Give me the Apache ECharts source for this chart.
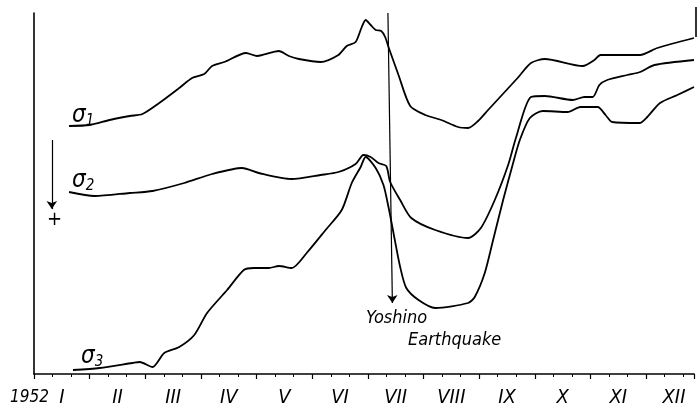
<!DOCTYPE html>
<html>
<head>
<meta charset="utf-8">
<script src="https://cdn.jsdelivr.net/npm/echarts@6/dist/echarts.min.js"></script>
<style>
  html, body { margin: 0; background: #fff; }
  #chart { width: 697px; height: 412px; }
</style>
</head>
<body>
<div id="chart"></div>
<script>
// x = months since 1 Jan 1952, y = relative stress (+ downward, arbitrary units)
const MONTHS = ['I', 'II', 'III', 'IV', 'V', 'VI', 'VII', 'VIII', 'IX', 'X', 'XI', 'XII'];
const YEAR = '1952';
const QUAKE_MONTH = 6.4;

const SIGMA1 = [
  [0.63, 113], [1.0, 112], [1.36, 107], [1.72, 103], [1.95, 101], [2.25, 90],
  [2.61, 75], [2.84, 65], [3.06, 61], [3.2, 53], [3.42, 49], [3.81, 40],
  [4.01, 43], [4.4, 38], [4.58, 43], [4.76, 46], [5.15, 49], [5.47, 42],
  [5.62, 33], [5.78, 29], [5.89, 14], [5.96, 7], [6.05, 12], [6.14, 17],
  [6.24, 18], [6.31, 24], [6.37, 34], [6.55, 62], [6.76, 93], [7.03, 102],
  [7.32, 107], [7.62, 114], [7.8, 115], [7.98, 108], [8.16, 97], [8.69, 65],
  [8.93, 50], [9.18, 46], [9.86, 53], [10.07, 47], [10.18, 42], [10.89, 42],
  [11.2, 35], [11.86, 25]
];

const SIGMA2 = [
  [0.63, 179], [1.09, 183], [1.72, 180], [2.13, 178], [2.7, 170], [3.2, 161],
  [3.74, 155], [4.04, 160], [4.63, 166], [5.15, 162], [5.47, 159], [5.78, 151],
  [5.92, 142], [6.05, 144], [6.19, 150], [6.33, 153], [6.4, 169], [6.58, 187],
  [6.78, 205], [7.21, 217], [7.8, 225], [8.03, 215], [8.28, 187], [8.52, 152],
  [8.66, 125], [8.93, 84], [9.18, 83], [9.68, 87], [9.89, 84], [10.04, 84],
  [10.16, 72], [10.3, 67], [10.66, 62], [10.89, 59], [11.15, 52], [11.86, 47]
];

const SIGMA3 = [
  [0.7, 357], [1.18, 355], [1.77, 350], [1.9, 349], [2.13, 354], [2.34, 340],
  [2.61, 334], [2.88, 322], [3.11, 300], [3.47, 277], [3.77, 257], [3.95, 255],
  [4.22, 255], [4.4, 253], [4.63, 255], [4.9, 240], [5.24, 217], [5.53, 197],
  [5.71, 170], [5.87, 154], [5.96, 144], [6.14, 155], [6.28, 172], [6.37, 194],
  [6.46, 220], [6.58, 254], [6.69, 275], [6.91, 287], [7.21, 295], [7.8, 290],
  [7.92, 284], [8.1, 260], [8.25, 227], [8.43, 187], [8.6, 152], [8.73, 127],
  [8.91, 105], [9.14, 98], [9.59, 99], [9.82, 94], [10.13, 94], [10.27, 102],
  [10.39, 109], [10.88, 110], [11.02, 104], [11.25, 90], [11.56, 82], [11.86, 74]
];

const X_MAX = 11.86;
const FONT = "'DejaVu Sans Condensed', 'DejaVu Sans', sans-serif";
const INK = '#000';

function curve(name, data) {
  return {
    name: name,
    type: 'line',
    data: data,
    smooth: 0.25,
    showSymbol: false,
    clip: false,
    lineStyle: { color: INK, width: 1.8 },
    silent: true,
  };
}

function sigmaLabel(index, x, y) {
  return {
    type: 'text',
    x: x,
    y: y,
    style: {
      text: '{s|σ}{n|' + index + '}',
      verticalAlign: 'middle',
      rich: {
        s: { fontSize: 24, fontStyle: 'italic', fontFamily: FONT, color: INK },
        n: { fontSize: 15, fontStyle: 'italic', fontFamily: FONT, color: INK, padding: [10, 0, 0, 0] },
      },
    },
  };
}

function note(text, x, y, size) {
  return {
    type: 'text',
    x: x,
    y: y,
    style: { text: text, fill: INK, font: 'italic ' + size + 'px ' + FONT, verticalAlign: 'middle' },
  };
}

const chart = echarts.init(document.getElementById('chart'));
const sigma1 = curve('σ1', SIGMA1);

sigma1.markLine = {
  silent: true,
  symbol: ['none', 'arrow'],
  symbolSize: 8,
  label: { show: false },
  lineStyle: { color: INK, width: 1.2, type: 'solid' },
  data: [
    [{ coord: [QUAKE_MONTH - 0.04, 0] }, { coord: [QUAKE_MONTH + 0.04, 290] }],
    [{ coord: [0.32, 127] }, { coord: [0.32, 196] }],
  ],
};

chart.setOption({
  animation: false,
  grid: { left: 34, right: 0, top: 13, bottom: 38 },
  xAxis: [
    {
      type: 'value',
      position: 'bottom',
      min: 0,
      max: X_MAX,
      interval: 1,
      axisLine: { onZero: false, lineStyle: { color: INK, width: 1.6 } },
      axisTick: { length: 5, lineStyle: { color: INK, width: 1.2 } },
      minorTick: { show: true, splitNumber: 3, length: 3, lineStyle: { color: INK } },
      axisLabel: { show: false },
      splitLine: { show: false },
    },
    {
      type: 'value',
      position: 'bottom',
      min: 0,
      max: X_MAX,
      interval: 0.5,
      axisLine: { show: false, onZero: false },
      axisTick: { show: false },
      splitLine: { show: false },
      axisLabel: {
        margin: 14,
        color: INK,
        fontSize: 20,
        fontStyle: 'italic',
        fontFamily: FONT,
        formatter: (v) => (Math.round(v * 2) % 2 === 1 ? MONTHS[Math.floor(v)] : ''),
      },
    },
  ],
  yAxis: {
    type: 'value',
    inverse: true,
    min: 0,
    max: 361,
    axisLine: { show: true, lineStyle: { color: INK, width: 1.6 } },
    axisTick: { show: false },
    axisLabel: { show: false },
    splitLine: { show: false },
  },
  series: [sigma1, curve('σ2', SIGMA2), curve('σ3', SIGMA3)],
  graphic: [
    sigmaLabel(1, 72, 116),
    sigmaLabel(2, 72, 181),
    sigmaLabel(3, 81, 357),
    note(YEAR, 10, 398, 17),
    note('Yoshino', 366, 318, 18),
    note('Earthquake', 408, 340, 18),
    {
      type: 'text', x: 47, y: 220,
      style: { text: '+', fill: INK, font: '20px ' + FONT, verticalAlign: 'middle' },
    },
    {
      type: 'line',
      shape: { x1: 696, y1: 7, x2: 696, y2: 37 },
      style: { stroke: INK, lineWidth: 1.6 },
    },
  ],
});
</script>
</body>
</html>
